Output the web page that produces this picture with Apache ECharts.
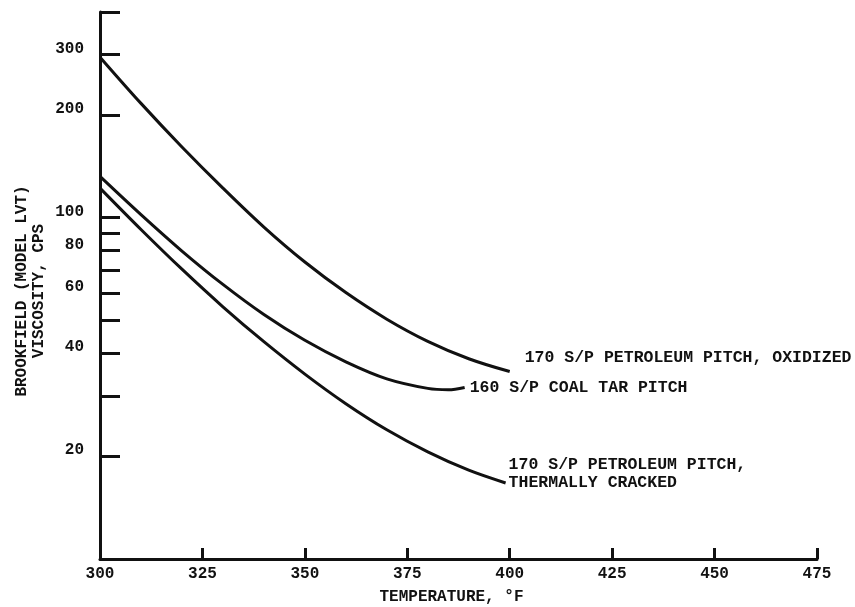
<!DOCTYPE html>
<html>
<head>
<meta charset="utf-8">
<script src="https://cdn.jsdelivr.net/npm/echarts@6/dist/echarts.min.js"></script>
<style>
  html, body { margin: 0; padding: 0; background: #fff; }
  #chart { width: 855px; height: 607px; }
</style>
</head>
<body>
<div id="chart"></div>
<script>
// Brookfield viscosity of binder pitches versus temperature
const oxidizedTemp = [300, 310, 320, 330, 340, 350, 360, 370, 380, 390, 400];
const oxidizedVisc = [295, 216, 161, 122, 93.8, 74.1, 60.3, 50.4, 43.4, 38.6, 35.4];

const coalTarTemp = [300, 310, 320, 330, 340, 350, 360, 370, 380, 385, 389];
const coalTarVisc = [132, 102, 79.8, 63.7, 52.0, 43.7, 37.8, 33.7, 31.6, 31.3, 31.8];

const crackedTemp = [300, 310, 320, 330, 340, 350, 360, 370, 380, 390, 399];
const crackedVisc = [122, 92.3, 70.6, 54.8, 43.3, 34.8, 28.5, 23.9, 20.6, 18.2, 16.7];

const seriesNames = [
  '170 S/P PETROLEUM PITCH, OXIDIZED',
  '160 S/P COAL TAR PITCH',
  '170 S/P PETROLEUM PITCH,\nTHERMALLY CRACKED'
];

const yTickValues = [10, 20, 30, 40, 50, 60, 70, 80, 90, 100, 200, 300, 400];
const yLabelValues = [20, 40, 60, 80, 100, 200, 300];
const xTickLabels = [300, 325, 350, 375, 400, 425, 450, 475];

const FONT = '"Liberation Mono", "DejaVu Sans Mono", monospace';
const INK = '#111';

function pairs(xs, ys) {
  return xs.map((x, i) => [x, ys[i]]);
}

function curve(name, data) {
  return {
    name: name,
    type: 'line',
    data: data,
    smooth: 0.35,
    symbol: 'none',
    lineStyle: { color: INK, width: 3 }
  };
}

const chart = echarts.init(document.getElementById('chart'), null, { renderer: 'canvas' });

chart.setOption({
  animation: false,
  backgroundColor: '#fff',
  grid: { left: 100, right: 38, top: 12, bottom: 48, containLabel: false, outerBoundsMode: 'none' },
  xAxis: {
    type: 'value',
    min: 300,
    max: 475,
    interval: 25,
    name: 'TEMPERATURE, °F',
    nameLocation: 'middle',
    nameGap: 30,
    nameMoveOverlap: false,
    nameTextStyle: {
      color: INK, fontFamily: FONT, fontWeight: 'bold', fontSize: 16,
      padding: [0, 14, 0, 0]
    },
    axisLine: { lineStyle: { color: INK, width: 3 } },
    axisTick: { inside: true, length: 11, lineStyle: { color: INK, width: 3 } },
    axisLabel: {
      color: INK, fontFamily: FONT, fontWeight: 'bold', fontSize: 16, margin: 7,
      customValues: xTickLabels
    },
    splitLine: { show: false }
  },
  yAxis: {
    type: 'log',
    logBase: 10,
    min: 10,
    max: 400,
    name: 'BROOKFIELD (MODEL LVT)\nVISCOSITY, CPS',
    nameLocation: 'middle',
    nameRotate: 90,
    nameGap: 53,
    nameMoveOverlap: false,
    nameTextStyle: {
      color: INK, fontFamily: FONT, fontWeight: 'bold', fontSize: 16, lineHeight: 17,
      padding: [0, 11, 0, 0]
    },
    axisLine: { lineStyle: { color: INK, width: 3 } },
    axisTick: {
      inside: true, length: 20, lineStyle: { color: INK, width: 3 },
      customValues: yTickValues
    },
    axisLabel: {
      color: INK, fontFamily: FONT, fontWeight: 'bold', fontSize: 16, margin: 16,
      verticalAlign: 'bottom', lineHeight: 12,
      customValues: yLabelValues
    },
    minorTick: { show: false },
    splitLine: { show: false }
  },
  series: [
    curve(seriesNames[0], pairs(oxidizedTemp, oxidizedVisc)),
    curve(seriesNames[1], pairs(coalTarTemp, coalTarVisc)),
    curve(seriesNames[2], pairs(crackedTemp, crackedVisc))
  ]
});

// Curve names are written just past the last point of each curve.
function endPixel(xs, ys) {
  return chart.convertToPixel({ gridIndex: 0 }, [xs[xs.length - 1], ys[ys.length - 1]]);
}

function nameText(text, pt, dx, dy) {
  return {
    type: 'text',
    x: pt[0] + dx,
    y: pt[1] + dy,
    silent: true,
    style: {
      text: text,
      fill: INK,
      fontFamily: FONT,
      fontWeight: 'bold',
      fontSize: 16.5,
      lineHeight: 18,
      align: 'left',
      verticalAlign: 'middle'
    }
  };
}

const oxEnd = endPixel(oxidizedTemp, oxidizedVisc);
const ctEnd = endPixel(coalTarTemp, coalTarVisc);
const tcEnd = endPixel(crackedTemp, crackedVisc);

chart.setOption({
  graphic: [
    nameText(seriesNames[0], oxEnd, 15, -14),
    nameText(seriesNames[1], ctEnd, 5, 0),
    nameText(seriesNames[2], tcEnd, 3, -9)
  ]
});
</script>
</body>
</html>
